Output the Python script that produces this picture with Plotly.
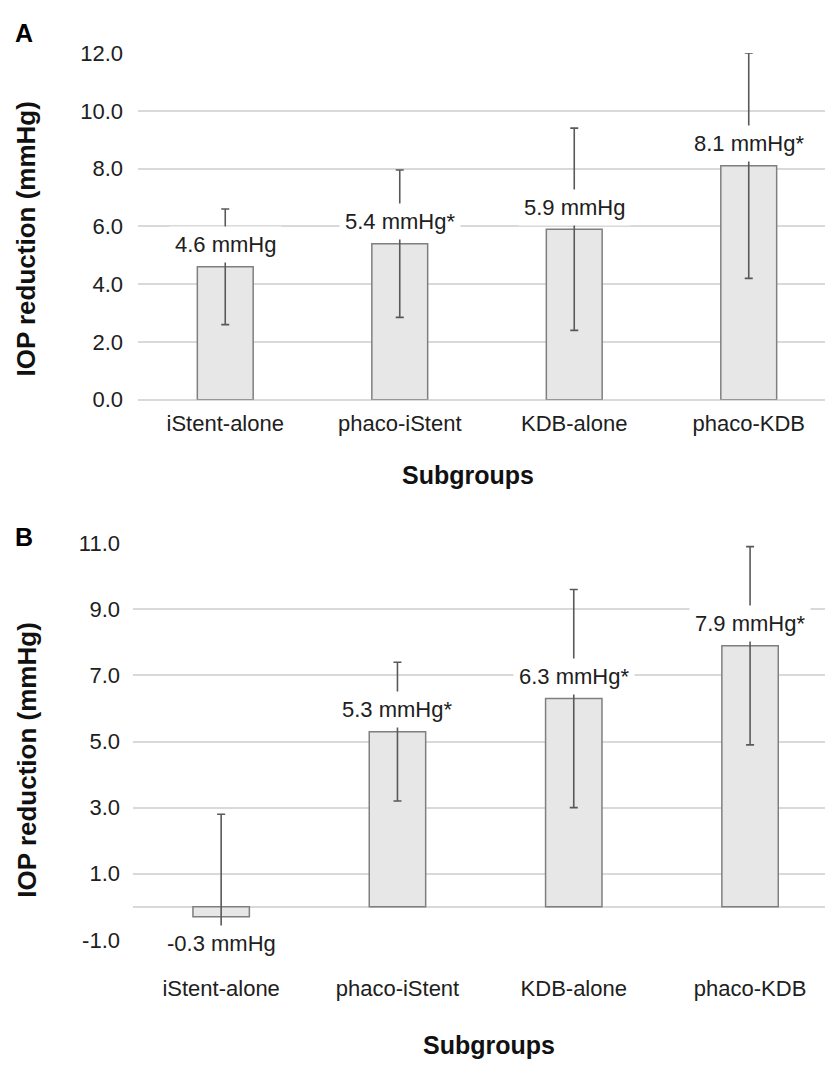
import plotly.graph_objects as go

# ---------------- data ----------------
categories = ["iStent-alone", "phaco-iStent", "KDB-alone", "phaco-KDB"]

a_values = [4.6, 5.4, 5.9, 8.1]
a_errors = [2.0, 2.55, 3.5, 3.9]
a_labels = ["4.6 mmHg", "5.4 mmHg*", "5.9 mmHg", "8.1 mmHg*"]
a_ticks = [0, 2, 4, 6, 8, 10, 12]
a_ticktext = ["0.0", "2.0", "4.0", "6.0", "8.0", "10.0", "12.0"]

b_values = [-0.3, 5.3, 6.3, 7.9]
b_errors = [3.1, 2.1, 3.3, 3.0]
b_labels = ["-0.3 mmHg", "5.3 mmHg*", "6.3 mmHg*", "7.9 mmHg*"]
b_ticks = [-1, 1, 3, 5, 7, 9, 11]
b_ticktext = ["-1.0", "1.0", "3.0", "5.0", "7.0", "9.0", "11.0"]

y_title = "IOP reduction (mmHg)"
x_title = "Subgroups"

# ---------------- style ----------------
W, H = 825, 1072
FONT = "Liberation Sans, Arial, sans-serif"
GRID = "#d9d9d9"
BAR_FILL = "#e7e7e7"
BAR_LINE = "#7f7f7f"
ERR = "#595959"
TXT = "#202020"

def px_x(p):
    return p / W

def px_y(p):
    return 1 - p / H

fig = go.Figure()

for vals, errs, xa, ya in [(a_values, a_errors, "x", "y"), (b_values, b_errors, "x2", "y2")]:
    fig.add_trace(go.Bar(
        x=categories, y=vals, xaxis=xa, yaxis=ya, width=0.32,
        marker=dict(color=BAR_FILL, line=dict(color=BAR_LINE, width=1.5)),
        error_y=dict(type="data", array=errs, visible=True, color=ERR,
                     thickness=1.6, width=4),
        showlegend=False, hoverinfo="skip",
    ))

# value labels
ann = []
for vals, labels, xa, ya in [(a_values, a_labels, "x", "y"), (b_values, b_labels, "x2", "y2")]:
    for c, v, t in zip(categories, vals, labels):
        ann.append(dict(
            x=c, y=v, xref=xa, yref=ya, text=t, showarrow=False,
            yanchor="middle", xanchor="center",
            yshift=(22 if v >= 0 else -27),
            font=dict(family=FONT, size=22, color=TXT),
            bgcolor="white", borderpad=5,
        ))

# axis titles & panel letters
title_font = dict(family=FONT, size=26, color="#111111")
ann += [
    dict(x=px_x(26), y=px_y(233), xref="paper", yref="paper", text=f"<b>{y_title}</b>",
         textangle=-90, showarrow=False, font=title_font, xanchor="center", yanchor="middle"),
    dict(x=px_x(27.5), y=px_y(766), xref="paper", yref="paper", text=f"<b>{y_title}</b>",
         textangle=-90, showarrow=False, font=title_font, xanchor="center", yanchor="middle"),
    dict(x=px_x(468), y=px_y(474), xref="paper", yref="paper", text=f"<b>{x_title}</b>",
         showarrow=False, font=dict(family=FONT, size=25, color="#111111"),
         xanchor="center", yanchor="middle"),
    dict(x=px_x(489), y=px_y(1058), xref="paper", yref="paper", text=f"<b>{x_title}</b>",
         showarrow=False, font=dict(family=FONT, size=25, color="#111111"),
         xanchor="center", yanchor="middle"),
    dict(x=px_x(24), y=px_y(22), xref="paper", yref="paper", text="<b>A</b>",
         showarrow=False, font=dict(family=FONT, size=25, color="black"),
         xanchor="center", yanchor="middle"),
    dict(x=px_x(24), y=px_y(538), xref="paper", yref="paper", text="<b>B</b>",
         showarrow=False, font=dict(family=FONT, size=25, color="black"),
         xanchor="center", yanchor="middle"),
]

tick_font = dict(family=FONT, size=22, color=TXT)

fig.update_layout(
    width=W, height=H,
    margin=dict(l=0, r=0, t=0, b=0),
    paper_bgcolor="white", plot_bgcolor="white",
    annotations=ann,
    xaxis=dict(domain=[px_x(138), 1], range=[-0.5, 3.437], anchor="y",
               showgrid=False, showline=False, ticks="", tickfont=tick_font,
               ticklabelstandoff=8),
    yaxis=dict(domain=[px_y(397), px_y(42)], range=[0, 12], anchor="x",
               tickvals=a_ticks, ticktext=a_ticktext,
               showgrid=True, gridcolor=GRID, gridwidth=1.5,
               zeroline=True, zerolinecolor=GRID, zerolinewidth=1.5,
               showline=False, ticks="", tickfont=tick_font, ticklabelstandoff=14),
    xaxis2=dict(domain=[px_x(133), 1], range=[-0.5, 3.425], anchor="y2",
                showgrid=False, showline=False, ticks="", tickfont=tick_font,
                ticklabelstandoff=33),
    yaxis2=dict(domain=[px_y(950), px_y(544)], range=[-1, 11], anchor="x2",
                tickvals=b_ticks, ticktext=b_ticktext,
                showgrid=True, gridcolor=GRID, gridwidth=1.5,
                zeroline=True, zerolinecolor=GRID, zerolinewidth=1.5,
                showline=False, ticks="", tickfont=tick_font, ticklabelstandoff=12),
)

fig.write_html("out.html", config={"displayModeBar": False},
               post_script="document.body.style.margin='0px';")
